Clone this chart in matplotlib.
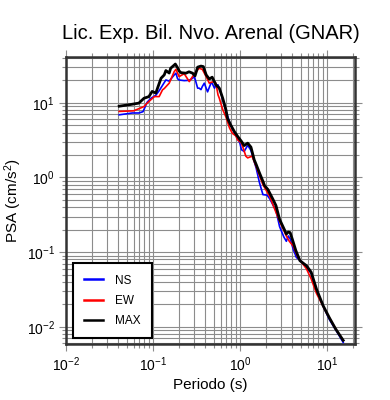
import matplotlib
matplotlib.use("Agg")
import matplotlib.pyplot as plt
from matplotlib.ticker import LogLocator, NullFormatter

plt.rcParams['font.family'] = ['Liberation Sans', 'DejaVu Sans']
plt.rcParams['mathtext.fontset'] = 'custom'
plt.rcParams['mathtext.rm'] = 'Liberation Sans'
plt.rcParams['mathtext.it'] = 'Liberation Sans:italic'

title = "Lic. Exp. Bil. Nvo. Arenal (GNAR)"
xlabel = "Periodo (s)"
ylabel = "PSA (cm/s$^2$)"

T_ns = [0.041, 0.058, 0.069, 0.077, 0.086, 0.095, 0.108, 0.118, 0.141, 0.154, 0.176, 0.184, 0.192,
        0.20, 0.229, 0.262, 0.286, 0.30, 0.327, 0.34, 0.357, 0.37, 0.39, 0.425, 0.465, 0.48, 0.51,
        0.53, 0.56, 0.60, 0.65, 0.70, 0.76, 0.87, 1.0, 1.04, 1.12, 1.23, 1.34, 1.54, 1.68, 1.84,
        2.05, 2.2, 2.6, 2.86, 3.2, 3.42, 3.6, 3.8, 4.1, 4.46, 4.9, 5.8, 6.6, 7.6, 9.06, 10.7,
        12.6, 15.4]
PSA_ns = [6.9, 7.3, 7.3, 7.6, 10.2, 11.5, 12.6, 14.5, 20.2, 19.5, 23.6, 24.9, 21.0,
          20.2, 19.8, 20.0, 21.3, 22.4, 15.7, 15.7, 15.0, 16.5, 18.3, 14.0, 18.3, 18.3, 15.7,
          17.0, 17.4, 14.0, 10.0, 7.5, 5.5, 3.9, 2.9, 2.36, 2.23, 2.7, 2.3, 1.33, 0.85, 0.59,
          0.58, 0.52, 0.36, 0.22, 0.16, 0.14, 0.165, 0.15, 0.11, 0.085, 0.078, 0.064, 0.052,
          0.031, 0.019, 0.0125, 0.0092, 0.0062]

T_ew = [0.041, 0.060, 0.072, 0.079, 0.086, 0.090, 0.104, 0.118, 0.129, 0.135, 0.154, 0.176,
        0.184, 0.192, 0.20, 0.229, 0.262, 0.286, 0.327, 0.34, 0.37, 0.41, 0.445, 0.465, 0.51,
        0.53, 0.56, 0.58, 0.635, 0.69, 0.76, 0.82, 0.90, 0.94, 1.04, 1.09, 1.17, 1.23, 1.38,
        1.54, 1.84, 2.2, 2.7, 3.0, 3.42, 3.7, 4.1, 4.65, 5.82, 6.6, 7.6, 8.3, 9.9, 12.6, 15.4]
PSA_ew = [7.66, 7.8, 8.5, 8.9, 9.9, 10.4, 12.1, 12.1, 14.9, 15.5, 18.3, 26.2,
          28.0, 25.0, 22.4, 24.5, 19.2, 22.5, 27.6, 29.0, 28.0, 22.4, 18.3, 18.8, 19.2,
          18.3, 12.8, 11.5, 8.1, 6.5, 4.6, 3.9, 3.6, 3.2, 2.9, 2.49, 1.93, 1.83, 1.93,
          1.4, 0.8, 0.56, 0.305, 0.23, 0.165, 0.14, 0.121, 0.085, 0.06, 0.044, 0.028,
          0.023, 0.0155, 0.0094, 0.0066]

T_max = [0.041, 0.053, 0.069, 0.079, 0.090, 0.098, 0.108, 0.124, 0.135, 0.141, 0.154, 0.16,
         0.176, 0.181, 0.192, 0.20, 0.21, 0.24, 0.26, 0.286, 0.305, 0.327, 0.357, 0.38, 0.41,
         0.445, 0.48, 0.53, 0.58, 0.635, 0.69, 0.72, 0.78, 0.865, 0.94, 1.04, 1.12, 1.23,
         1.34, 1.46, 1.54, 1.68, 1.84, 1.92, 2.1, 2.4, 2.6, 2.86, 3.25, 3.42, 3.6, 3.78, 4.0,
         4.4, 4.9, 5.82, 6.6, 7.6, 9.06, 10.7, 12.6, 15.4]
PSA_max = [9.0, 9.4, 9.9, 11.5, 12.1, 14.2, 13.5, 21.3, 23.6, 27.0, 25.0, 29.0,
           32.0, 33.0, 29.5, 26.7, 25.3, 24.9, 26.0, 24.9, 22.9, 30.0, 31.0, 30.5, 23.6,
           20.8, 22.0, 17.4, 15.7, 11.5, 8.1, 6.2, 5.1, 4.1, 3.56, 3.05, 2.67, 2.88,
           2.55, 1.73, 1.49, 1.15, 0.89, 0.78, 0.69, 0.51, 0.42, 0.275, 0.2, 0.175, 0.186,
           0.183, 0.15, 0.105, 0.077, 0.066, 0.054, 0.032, 0.0192, 0.0132, 0.0094, 0.0066]

labels = ["NS", "EW", "MAX"]
colors = ["#0000ff", "#ff0000", "#000000"]

fig = plt.figure(figsize=(3.9, 4.0), dpi=100)
ax = fig.add_axes([0.169, 0.14, 0.741, 0.7175])
ax.set_xscale('log')
ax.set_yscale('log')
ax.set_xlim(0.01, 21)
ax.set_ylim(0.0059, 41)

ax.grid(True, which='both', color='#8c8c8c', linewidth=0.8)
ax.set_axisbelow(True)

ax.plot(T_ns, PSA_ns, color=colors[0], lw=1.2, label=labels[0], zorder=3)
ax.plot(T_ew, PSA_ew, color=colors[1], lw=1.2, label=labels[1], zorder=4)
ax.plot(T_max, PSA_max, color=colors[2], lw=2.0, label=labels[2], zorder=5)

ax.xaxis.set_major_locator(LogLocator(base=10, numticks=10))
ax.yaxis.set_major_locator(LogLocator(base=10, numticks=10))
ax.xaxis.set_minor_locator(LogLocator(base=10, subs=range(2, 10), numticks=20))
ax.yaxis.set_minor_locator(LogLocator(base=10, subs=range(2, 10), numticks=20))
ax.xaxis.set_minor_formatter(NullFormatter())
ax.yaxis.set_minor_formatter(NullFormatter())

ax.tick_params(which='both', direction='out', top=True, right=True, color='#8c8c8c',
               labelsize=10, width=0.8)
ax.tick_params(which='major', length=5, pad=3)
ax.tick_params(which='minor', length=3)

for s in ax.spines.values():
    s.set_color('#333333')
    s.set_linewidth(1.8)

ax.set_xlabel(xlabel, fontsize=11, labelpad=3)
ax.set_ylabel(ylabel, fontsize=11, labelpad=2)
ax.set_title(title, fontsize=14.5, pad=13)

leg = ax.legend(loc='lower left', bbox_to_anchor=(0.025, 0.02), frameon=True, fancybox=False,
                edgecolor='black', framealpha=1, fontsize=8.5, handlelength=1.6,
                borderpad=0.95, labelspacing=0.7, handletextpad=1.0, borderaxespad=0)
leg.get_frame().set_linewidth(1.5)
for h in leg.get_lines():
    h.set_linewidth(1.8)

fig.savefig("out.png", dpi=100)
